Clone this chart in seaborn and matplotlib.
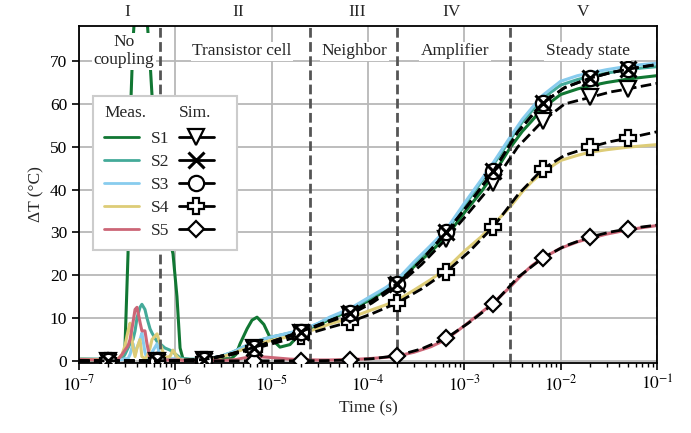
import matplotlib
matplotlib.use("Agg")
import numpy as np
import pandas as pd
import matplotlib.pyplot as plt
import matplotlib.text as mtext
import matplotlib.transforms as mtransforms
from matplotlib.lines import Line2D
from matplotlib.legend_handler import HandlerBase
import seaborn as sns

# --- measured data (time in s, temperature rise in degC) ---
t_meas = [1.0e-7, 1.65e-7, 2.1e-7, 2.54e-7, 2.8e-7, 3.0e-7, 3.23e-7, 3.39e-7, 3.64e-7, 3.82e-7,
          4.0e-7, 4.3e-7, 4.5e-7, 4.84e-7, 5.08e-7, 5.46e-7, 5.73e-7, 6.46e-7, 6.94e-7, 7.8e-7,
          8.8e-7, 9.46e-7, 1.04e-6, 1.12e-6, 1.2e-6, 1.42e-6, 2.0e-6, 2.9e-6, 3.8e-6, 4.27e-6,
          4.7e-6, 5.56e-6, 6.25e-6, 7.05e-6, 8.3e-6, 9.6e-6, 1.22e-5, 1.55e-5, 1.97e-5, 3e-5,
          4e-5, 6.5e-5, 1e-4, 1.5e-4, 2e-4, 3e-4, 4.5e-4, 6.5e-4, 1e-3, 1.5e-3,
          2e-3, 3e-3, 4e-3, 5e-3, 6.5e-3, 1e-2, 1.5e-2, 2e-2, 3e-2, 5e-2,
          7e-2, 1e-1]
S1_meas = [0.3, 0.2, 0.2, 0.3, 1.0, 3.0, 25, 55, 75, 82,
           84, 85, 85, 83, 80, 70, 62, 48, 40, 33,
           28, 25, 15, 3.0, 0.5, 0.3, 0.3, 0.5, 0.5, 1.5,
           4.0, 7.5, 9.5, 10.2, 8.5, 5.5, 3.2, 3.8, 6.3, 8.3,
           9.7, 11.7, 14.0, 16.3, 18.0, 22.0, 25.5, 29.0, 34.6, 39.5,
           43.5, 49.8, 53.6, 56.0, 59.0, 62.2, 63.5, 64.2, 65.0, 65.8,
           66.2, 66.6]
S2_meas = [0.5, 0.4, 0.3, 0.3, 0.5, 1.5, 3.0, 4.0, 5.0, 7.0,
           10.0, 12.5, 13.2, 12.0, 10.0, 7.5, 6.5, 4.5, 4.0, 3.0,
           2.5, 2.0, 1.3, 0.7, 0.5, 0.4, 0.4, 1.0, 1.9, 2.4,
           2.9, 3.6, 4.1, 4.6, 5.1, 5.5, 6.0, 6.5, 7.0, 8.6,
           10.0, 12.0, 14.4, 16.8, 18.6, 22.8, 26.6, 30.3, 36.2, 41.8,
           45.8, 51.7, 55.8, 58.3, 61.3, 64.4, 65.7, 66.4, 67.2, 68.0,
           68.4, 68.7]
S3_meas = [0.4, 0.3, 0.2, 0.2, 0.3, 0.5, 0.5, 1.5, 4.0, 1.5,
           3.0, 5.0, 6.5, 2.0, 0.5, 0.5, 2.0, 4.0, 1.0, 0.5,
           0.5, 0.5, 0.4, 0.3, 0.3, 0.3, 0.4, 1.0, 1.9, 2.4,
           2.9, 3.6, 4.1, 4.6, 5.1, 5.5, 6.0, 6.6, 7.1, 8.7,
           10.2, 12.2, 14.7, 17.0, 18.9, 23.1, 27.0, 30.7, 36.8, 42.3,
           46.3, 52.3, 56.4, 59.0, 62.0, 65.3, 66.6, 67.2, 68.0, 68.8,
           69.2, 69.5]
S4_meas = [0.4, 0.3, 0.3, 0.5, 1.5, 3.5, 7.0, 8.8, 3.0, 1.0,
           3.0, 5.0, 1.0, 0.5, 1.0, 3.0, 5.0, 6.3, 4.0, 0.8,
           1.0, 2.5, 1.0, 0.3, 0.2, 0.2, 0.2, 0.8, 1.6, 2.0,
           2.4, 3.0, 3.4, 3.9, 4.3, 4.7, 5.2, 5.7, 6.2, 7.6,
           8.6, 10.0, 11.6, 13.0, 14.1, 16.5, 19.0, 21.5, 25.6, 29.0,
           31.8, 36.0, 39.5, 41.8, 44.0, 46.8, 48.0, 48.7, 49.3, 49.9,
           50.2, 50.5]
S5_meas = [0.3, 0.2, 0.2, 0.3, 1.5, 2.5, 3.5, 5.0, 9.0, 12.0,
           12.5, 9.0, 7.0, 7.0, 4.0, 0.5, 0.3, 0.3, 0.2, 0.2,
           0.2, 0.2, 0.2, 0.2, 0.1, 0.1, 0.1, 0.1, 0.2, 0.3,
           0.5, 0.8, 1.0, 1.0, 0.9, 0.8, 0.6, 0.4, 0.3, 0.2,
           0.2, 0.3, 0.5, 0.8, 1.1, 2.0, 3.3, 5.0, 8.2, 11.3,
           13.5, 17.3, 20.2, 22.2, 24.0, 26.3, 27.8, 28.6, 29.6, 30.6,
           31.1, 31.6]

# --- simulated data ---
t_sim = [1e-7, 2e-7, 4e-7, 6.5e-7, 1.1e-6, 2e-6, 3.6e-6, 6.5e-6, 1.1e-5, 2e-5,
         3.6e-5, 6.5e-5, 1.1e-4, 2e-4, 3.6e-4, 6.5e-4, 1.1e-3, 2e-3, 3.6e-3, 6.5e-3,
         1.1e-2, 2e-2, 3.3e-2, 5e-2, 7.2e-2, 1e-1]
S1_sim = [0, 0, 0, 0, 0.1, 0.3, 1.4, 3.0, 4.6, 6.6,
          8.8, 10.8, 13.5, 17.5, 22.5, 28.5, 34.5, 41.5, 50.0, 56.0,
          60.0, 61.5, 62.8, 63.5, 64.2, 64.8]
S2_sim = [0, 0, 0, 0, 0.1, 0.3, 1.5, 3.1, 4.8, 6.8,
          9.0, 11.2, 14.0, 18.0, 23.5, 30.0, 36.5, 44.3, 53.5, 60.2,
          63.8, 66.0, 67.3, 68.1, 68.7, 69.2]
S3_sim = [0, 0, 0, 0, 0.1, 0.3, 1.5, 3.1, 4.8, 6.8,
          9.0, 11.2, 14.0, 18.0, 23.5, 30.0, 36.5, 44.3, 53.5, 60.2,
          63.8, 66.0, 67.3, 68.1, 68.7, 69.2]
S4_sim = [0, 0, 0, 0, 0.1, 0.3, 1.3, 2.8, 4.2, 5.8,
          7.5, 9.1, 11.0, 13.5, 16.8, 20.8, 25.3, 31.3, 38.8, 44.8,
          48.0, 49.9, 51.2, 52.0, 52.8, 53.5]
S5_sim = [0, 0, 0, 0, 0, 0, 0, 0, 0, 0,
          0.05, 0.2, 0.5, 1.2, 2.8, 5.3, 8.8, 13.3, 19.5, 24.0,
          26.8, 28.9, 30.1, 30.8, 31.3, 31.7]
sim_marker_idx = [1, 3, 5, 7, 9, 11, 13, 15, 17, 19, 21, 23]

names = ['S1', 'S2', 'S3', 'S4', 'S5']
colors = ['#117733', '#44AA99', '#88CCEE', '#DDCC77', '#CC6677']
markers = ['v', 'x', 'o', 'P', 'D']

region_edges = [7e-7, 2.5e-5, 2e-4, 3e-3, 1e-1]
region_ids = ['I', 'II', 'III', 'IV', 'V']
region_id_x = [3.2e-7, 4.5e-6, 7.7e-5, 7.3e-4, 1.7e-2]
region_names = ['No\ncoupling', 'Transistor cell', 'Neighbor', 'Amplifier', 'Steady state']
region_name_x = [2.95e-7, 4.9e-6, 7.2e-5, 8.0e-4, 1.9e-2]
x_ticks = [1e-7, 1e-6, 1e-5, 1e-4, 1e-3, 1e-2, 1e-1]
x_ticklabels = ['$10^{-7}$', '$10^{-6}$', '$10^{-5}$', '$10^{-4}$',
                '$10^{-3}$', '$10^{-2}$', '$10^{-1}$']

FS = 12.5


class Header:
    def __init__(self, text):
        self.text = text


class HeaderHandler(HandlerBase):
    def create_artists(self, legend, orig_handle, xdescent, ydescent,
                       width, height, fontsize, trans):
        t = mtext.Text(-xdescent, (height - ydescent) / 2.0, orig_handle.text,
                       ha='left', va='center', fontsize=fontsize,
                       family='Liberation Serif')
        t.set_transform(trans)
        return [t]


sns.set_style('whitegrid', {'axes.edgecolor': 'black', 'grid.color': '#b8b8b8',
                            'xtick.bottom': True, 'ytick.left': True})
plt.rcParams['font.family'] = ['Liberation Serif', 'DejaVu Serif']
plt.rcParams['mathtext.fontset'] = 'stix'
plt.rcParams['font.size'] = FS

fig = plt.figure(figsize=(6.91, 4.33), dpi=100)
ax = fig.add_axes([0.1143, 0.1617, 0.8365, 0.7783])

meas = pd.DataFrame({'t': t_meas * 5,
                     'T': S1_meas + S2_meas + S3_meas + S4_meas + S5_meas,
                     'series': [n for n in names for _ in t_meas]})
sns.lineplot(data=meas, x='t', y='T', hue='series', palette=colors, lw=2.2,
             legend=False, ax=ax, zorder=2, sort=False)

sim = {'S1': S1_sim, 'S2': S2_sim, 'S3': S3_sim, 'S4': S4_sim, 'S5': S5_sim}
for k in ['S4', 'S5', 'S1', 'S3', 'S2']:
    i = names.index(k)
    ms = 8.5 if markers[i] == 'D' else 11
    mew = 2.2 if markers[i] == 'x' else 1.6
    ax.plot(t_sim, sim[k], color='black', lw=2.0, dashes=(3.8, 1.6),
            marker=markers[i], markevery=sim_marker_idx, ms=ms, mew=mew,
            mfc='white', mec='black', zorder=3)

for x in region_edges:
    ax.axvline(x, color='#555555', lw=2, dashes=(3.5, 1.6), zorder=2.5)

blend = mtransforms.blended_transform_factory(ax.transData, ax.transAxes)
for x, s in zip(region_id_x, region_ids):
    ax.text(x, 1.018, s, transform=blend, ha='center', va='bottom', fontsize=FS)
for x, s in zip(region_name_x, region_names):
    ax.text(x, 72.3, s, ha='center', va='center', fontsize=FS, zorder=4,
            linespacing=1.15,
            bbox=dict(facecolor='white', edgecolor='none', pad=1.0))

ax.set_xscale('log')
ax.set_xlim(1e-7, 1e-1)
ax.set_ylim(-0.5, 78.2)
ax.set_xticks(x_ticks)
ax.set_xticklabels(x_ticklabels)
ax.set_yticks([0, 10, 20, 30, 40, 50, 60, 70])
ax.set_xlabel('Time (s)', fontsize=FS)
ax.set_ylabel('ΔT (°C)', fontsize=FS)
ax.grid(True, which='major', lw=1.3)
ax.tick_params(axis='both', which='major', direction='out', length=5, width=1.2,
               colors='black', labelsize=FS)
ax.tick_params(axis='x', which='minor', direction='out', length=3, width=1.0,
               colors='black', bottom=True, labelbottom=False)
for sp in ax.spines.values():
    sp.set_color('black')
    sp.set_linewidth(1.3)

handles = [Header('Meas.')]
labels = ['']
for n, c in zip(names, colors):
    handles.append(Line2D([], [], color=c, lw=2))
    labels.append(n)
handles.append(Header('Sim.'))
labels.append('')
for m in markers:
    ms = 8.5 if m == 'D' else 11
    mew = 2.2 if m == 'x' else 1.6
    handles.append(Line2D([], [], color='black', lw=2, marker=m, ms=ms, mew=mew,
                          mfc='white', mec='black'))
    labels.append('')
leg = ax.legend(handles, labels, ncol=2, loc='upper left', bbox_to_anchor=(0.024, 0.792),
                borderaxespad=0, handler_map={Header: HeaderHandler()},
                handlelength=2.0, handletextpad=0.7, columnspacing=0.55,
                labelspacing=0.4, borderpad=0.65, fancybox=False, framealpha=1,
                edgecolor='#cccccc', fontsize=FS)
leg.get_frame().set_linewidth(1.5)
leg.set_zorder(5)

fig.savefig('out.png', dpi=100)
